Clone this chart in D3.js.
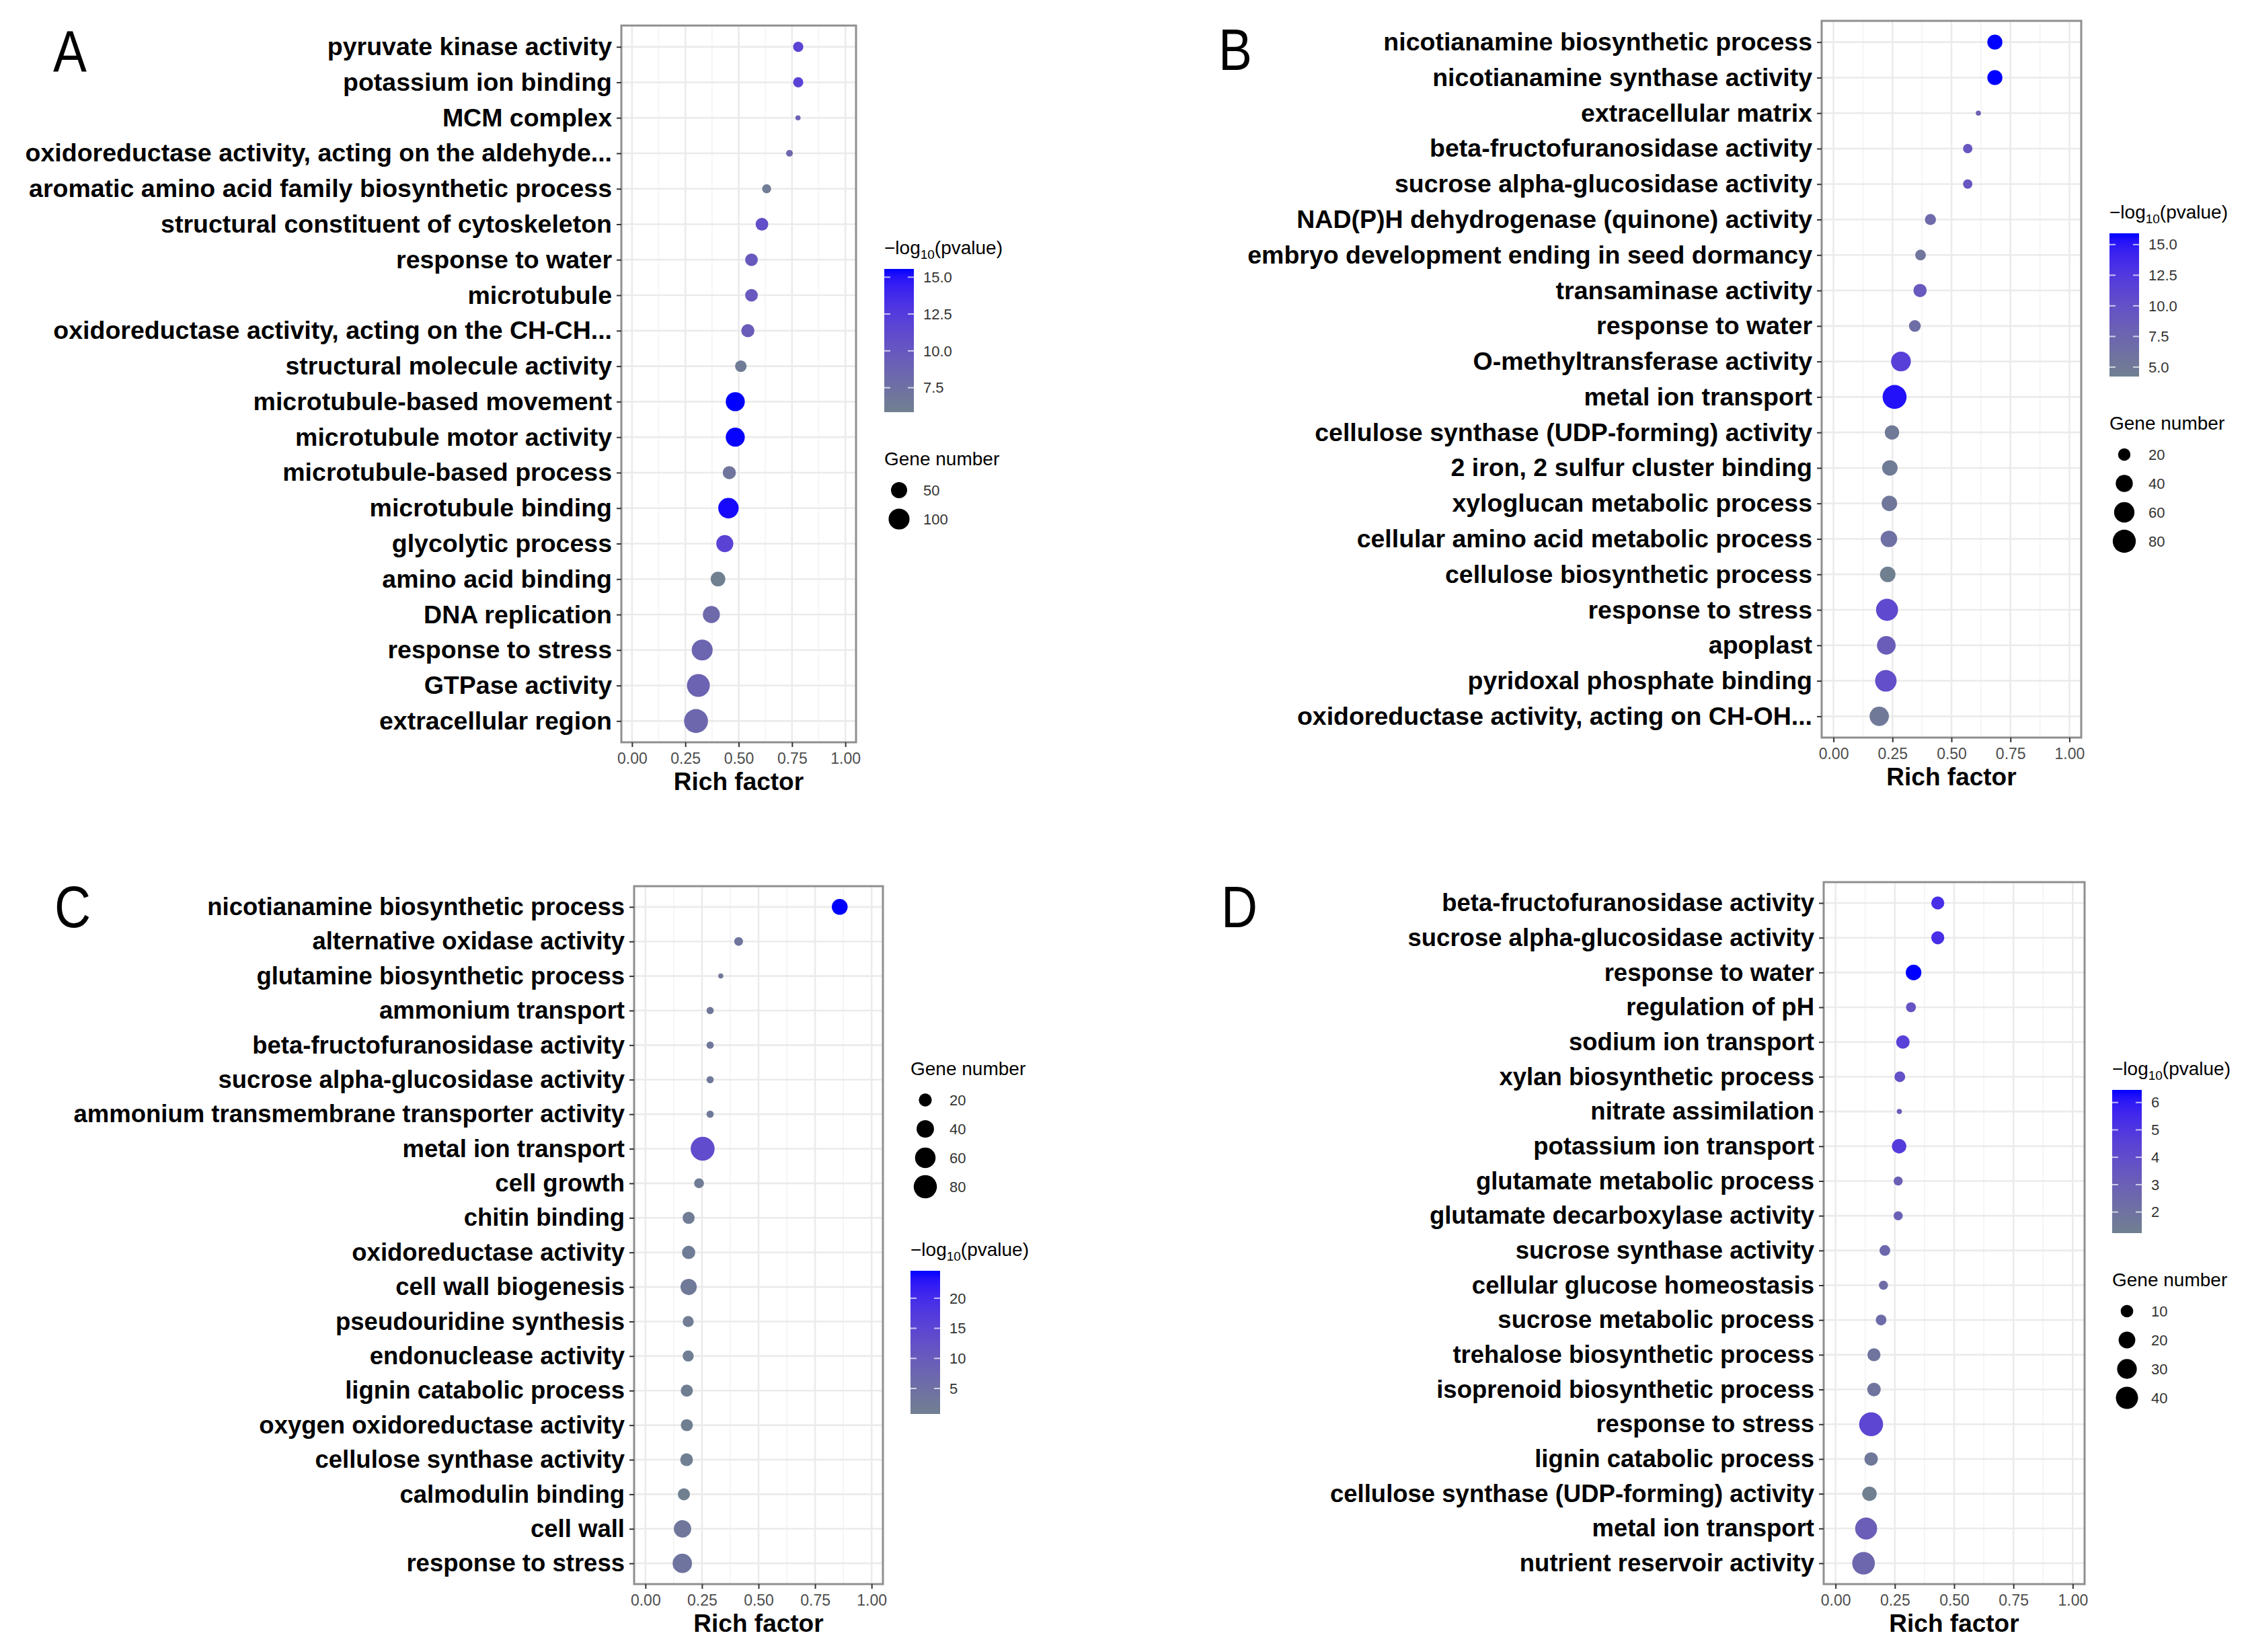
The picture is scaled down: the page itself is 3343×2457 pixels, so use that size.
<!DOCTYPE html>
<html>
<head>
<meta charset="utf-8">
<script src="https://cdn.jsdelivr.net/npm/d3@7"></script>
<style>
  body { margin: 0; background: #fff; }
  text { font-family: "Liberation Sans", Arial, sans-serif; }
</style>
</head>
<body>
<div id="chart"></div>
<script>
const W = 3343, H = 2457;

// ---- Panel A ----
const termsA = [
  "pyruvate kinase activity", "potassium ion binding", "MCM complex",
  "oxidoreductase activity, acting on the aldehyde...",
  "aromatic amino acid family biosynthetic process",
  "structural constituent of cytoskeleton", "response to water", "microtubule",
  "oxidoreductase activity, acting on the CH-CH...", "structural molecule activity",
  "microtubule-based movement", "microtubule motor activity", "microtubule-based process",
  "microtubule binding", "glycolytic process", "amino acid binding", "DNA replication",
  "response to stress", "GTPase activity", "extracellular region"
];
const richA = [0.779, 0.779, 0.778, 0.738, 0.631, 0.609, 0.560, 0.560, 0.543, 0.510,
               0.484, 0.484, 0.456, 0.452, 0.435, 0.403, 0.372, 0.329, 0.311, 0.300];
const genesA = [13, 13, 3, 4, 9, 25, 25, 25, 28, 19, 78, 78, 28, 94, 58, 38, 58, 100, 125, 140];
const pvalA = [11.8, 11.8, 9.0, 8.5, 6.2, 10.8, 9.8, 9.8, 9.4, 6.3,
               15.56, 15.5, 7.0, 15.3, 11.8, 5.84, 8.2, 8.6, 8.8, 8.3];
const colorBreaksA = [7.5, 10, 12.5, 15];
const sizeBreaksA = [50, 100];

// ---- Panel B ----
const termsB = [
  "nicotianamine biosynthetic process", "nicotianamine synthase activity",
  "extracellular matrix", "beta-fructofuranosidase activity",
  "sucrose alpha-glucosidase activity", "NAD(P)H dehydrogenase (quinone) activity",
  "embryo development ending in seed dormancy", "transaminase activity",
  "response to water", "O-methyltransferase activity", "metal ion transport",
  "cellulose synthase (UDP-forming) activity", "2 iron, 2 sulfur cluster binding",
  "xyloglucan metabolic process", "cellular amino acid metabolic process",
  "cellulose biosynthetic process", "response to stress", "apoplast",
  "pyridoxal phosphate binding", "oxidoreductase activity, acting on CH-OH..."
];
const richB = [0.684, 0.684, 0.614, 0.569, 0.569, 0.411, 0.369, 0.367, 0.345, 0.286,
               0.259, 0.248, 0.239, 0.237, 0.235, 0.230, 0.227, 0.224, 0.222, 0.194];
const genesB = [30, 30, 8, 12, 12, 16, 15, 23, 18, 56, 87, 27, 32, 32, 37, 32, 72, 49, 68, 53];
const pvalB = [15.92, 15.9, 8.0, 9.2, 9.2, 7.0, 5.5, 9.0, 6.5, 11.8,
               15.3, 5.0, 4.8, 5.4, 6.2, 4.23, 10.8, 8.5, 10.2, 5.0];
const colorBreaksB = [5, 7.5, 10, 12.5, 15];
const sizeBreaksB = [20, 40, 60, 80];

// ---- Panel C ----
const termsC = [
  "nicotianamine biosynthetic process", "alternative oxidase activity",
  "glutamine biosynthetic process", "ammonium transport",
  "beta-fructofuranosidase activity", "sucrose alpha-glucosidase activity",
  "ammonium transmembrane transporter activity", "metal ion transport", "cell growth",
  "chitin binding", "oxidoreductase activity", "cell wall biogenesis",
  "pseudouridine synthesis", "endonuclease activity", "lignin catabolic process",
  "oxygen oxidoreductase activity", "cellulose synthase activity", "calmodulin binding",
  "cell wall", "response to stress"
];
const richC = [0.859, 0.412, 0.333, 0.286, 0.286, 0.286, 0.286, 0.253, 0.237, 0.191,
               0.191, 0.191, 0.189, 0.189, 0.183, 0.183, 0.182, 0.170, 0.164, 0.163];
const genesC = [32, 9, 6, 7, 7, 7, 7, 86, 11, 17, 21, 34, 14, 14, 17, 17, 19, 17, 40, 52];
const pvalC = [24.56, 3.5, 3.0, 2.8, 2.8, 2.8, 2.8, 13.5, 2.0, 1.5,
               1.8, 2.5, 1.5, 1.3, 1.2, 1.2, 1.0, 0.76, 3.0, 3.8];
const colorBreaksC = [5, 10, 15, 20];
const sizeBreaksC = [20, 40, 60, 80];

// ---- Panel D ----
const termsD = [
  "beta-fructofuranosidase activity", "sucrose alpha-glucosidase activity",
  "response to water", "regulation of pH", "sodium ion transport",
  "xylan biosynthetic process", "nitrate assimilation", "potassium ion transport",
  "glutamate metabolic process", "glutamate decarboxylase activity",
  "sucrose synthase activity", "cellular glucose homeostasis", "sucrose metabolic process",
  "trehalose biosynthetic process", "isoprenoid biosynthetic process", "response to stress",
  "lignin catabolic process", "cellulose synthase (UDP-forming) activity",
  "metal ion transport", "nutrient reservoir activity"
];
const richD = [0.431, 0.431, 0.329, 0.318, 0.284, 0.271, 0.269, 0.268, 0.264, 0.264,
               0.208, 0.202, 0.192, 0.162, 0.162, 0.150, 0.150, 0.143, 0.129, 0.118];
const genesD = [11, 11, 17, 6, 12, 7, 3, 14, 5, 5, 7, 5, 7, 11, 12, 48, 12, 14, 39, 42];
const pvalD = [5.3, 5.3, 6.46, 3.6, 4.6, 3.8, 3.2, 4.8, 3.0, 3.0,
               2.6, 2.3, 2.4, 1.9, 1.9, 4.3, 1.7, 1.23, 3.1, 2.6];
const colorBreaksD = [2, 3, 4, 5, 6];
const sizeBreaksD = [10, 20, 30, 40];

const xTicks = [0, 0.25, 0.5, 0.75, 1];
const xMinor = [0.125, 0.375, 0.625, 0.875];

const lowColor = "#708090", highColor = "#0000ff";

const svg = d3.select("#chart").append("svg")
  .attr("width", W).attr("height", H)
  .style("background", "#fff");

svg.append("rect").attr("width", W).attr("height", H).attr("fill", "#fff");

// layout of each panel (box = plot area edges)
const panels = [
  {letter: "A", box: [924, 38, 1273, 1104], letterPos: [79, 107], labelSize: 37.5,
   legendX: 1315, legendTop: 378, order: ["color", "size"], fmt: ".1f",
   terms: termsA, rich: richA, genes: genesA, pval: pvalA, cb: colorBreaksA, sb: sizeBreaksA},
  {letter: "B", box: [2709, 31, 3095, 1097], letterPos: [1812, 104], labelSize: 37.5,
   legendX: 3137, legendTop: 325, order: ["color", "size"], fmt: ".1f",
   terms: termsB, rich: richB, genes: genesB, pval: pvalB, cb: colorBreaksB, sb: sizeBreaksB},
  {letter: "C", box: [943, 1318, 1313, 2356], letterPos: [81, 1379], labelSize: 36.5,
   legendX: 1354, legendTop: 1599, order: ["size", "color"], fmt: "d",
   terms: termsC, rich: richC, genes: genesC, pval: pvalC, cb: colorBreaksC, sb: sizeBreaksC},
  {letter: "D", box: [2712, 1312, 3100, 2356], letterPos: [1816, 1379], labelSize: 36.5,
   legendX: 3141, legendTop: 1599, order: ["color", "size"], fmt: "d",
   terms: termsD, rich: richD, genes: genesD, pval: pvalD, cb: colorBreaksD, sb: sizeBreaksD}
];

let gradId = 0;

function drawPanel(p) {
  const [x0, y0, x1, y1] = p.box;
  const g = svg.append("g");

  const x = d3.scaleLinear().domain([-0.05, 1.05]).range([x0, x1]);
  const y = d3.scalePoint().domain(p.terms).range([y0, y1]).padding(0.6);

  const pExt = d3.extent(p.pval);
  const gExt = d3.extent(p.genes);
  const color = d3.scaleLinear().domain(pExt).range([lowColor, highColor])
    .interpolate(d3.interpolateLab);
  const radius = d3.scaleSqrt().domain([0, gExt[1] - gExt[0]]).range([3.8, 17.8]);
  const r = v => radius(Math.max(0, v - gExt[0]));

  // panel background + grid
  g.append("rect").attr("x", x0).attr("y", y0)
    .attr("width", x1 - x0).attr("height", y1 - y0).attr("fill", "#fff");

  g.selectAll("line.minor").data(xMinor).enter().append("line")
    .attr("x1", d => x(d)).attr("x2", d => x(d))
    .attr("y1", y0).attr("y2", y1)
    .attr("stroke", "#f3f3f3").attr("stroke-width", 1.5);

  g.selectAll("line.vmajor").data(xTicks).enter().append("line")
    .attr("x1", d => x(d)).attr("x2", d => x(d))
    .attr("y1", y0).attr("y2", y1)
    .attr("stroke", "#ebebeb").attr("stroke-width", 2.6);

  g.selectAll("line.hmajor").data(p.terms).enter().append("line")
    .attr("x1", x0).attr("x2", x1)
    .attr("y1", d => y(d)).attr("y2", d => y(d))
    .attr("stroke", "#ebebeb").attr("stroke-width", 2.6);

  // points
  const rows = p.terms.map((t, i) => ({term: t, rich: p.rich[i], gene: p.genes[i], pv: p.pval[i]}));
  g.selectAll("circle.pt").data(rows).enter().append("circle")
    .attr("cx", d => x(d.rich))
    .attr("cy", d => y(d.term))
    .attr("r", d => r(d.gene))
    .attr("fill", d => color(d.pv));

  // border
  g.append("rect").attr("x", x0).attr("y", y0)
    .attr("width", x1 - x0).attr("height", y1 - y0)
    .attr("fill", "none").attr("stroke", "#8f8f8f").attr("stroke-width", 3);

  // axes
  const xAxis = g.append("g")
    .attr("transform", `translate(0,${y1})`)
    .call(d3.axisBottom(x).tickValues(xTicks).tickFormat(d3.format(".2f"))
      .tickSize(7).tickPadding(9));
  xAxis.select(".domain").remove();
  xAxis.selectAll("line").attr("stroke", "#333").attr("stroke-width", 2);
  xAxis.selectAll("text").attr("font-size", 23).attr("fill", "#4d4d4d")
    .attr("font-family", "Liberation Sans, Arial, sans-serif");

  const yAxis = g.append("g")
    .attr("transform", `translate(${x0},0)`)
    .call(d3.axisLeft(y).tickSize(7).tickPadding(7));
  yAxis.select(".domain").remove();
  yAxis.selectAll("line").attr("stroke", "#333").attr("stroke-width", 2);
  yAxis.selectAll("text").attr("font-size", p.labelSize).attr("font-weight", "bold")
    .attr("fill", "#000").attr("font-family", "Liberation Sans, Arial, sans-serif");

  g.append("text")
    .attr("x", (x0 + x1) / 2).attr("y", y1 + 71)
    .attr("text-anchor", "middle")
    .attr("font-size", 37).attr("font-weight", "bold")
    .text("Rich factor");

  // panel letter
  g.append("text")
    .attr("transform", `translate(${p.letterPos[0]},${p.letterPos[1]}) scale(0.85,1)`)
    .attr("font-size", 88)
    .text(p.letter);

  // legends
  const lx = p.legendX;
  let ty = p.legendTop;
  const barW = 44, barH = 213, keyStep = 43, labelX = lx + 58;

  p.order.forEach(kind => {
    if (kind === "color") {
      const title = g.append("text").attr("x", lx).attr("y", ty).attr("font-size", 28);
      title.append("tspan").text("\u2212log");
      title.append("tspan").attr("font-size", 19).attr("dy", 7).text("10");
      title.append("tspan").attr("dy", -7).text("(pvalue)");

      const top = ty + 22, bot = top + barH;
      const id = "grad" + (gradId++);
      const grad = svg.append("defs").append("linearGradient")
        .attr("id", id).attr("x1", 0).attr("y1", 1).attr("x2", 0).attr("y2", 0);
      d3.range(0, 21).forEach(k => {
        const t = k / 20;
        grad.append("stop").attr("offset", t)
          .attr("stop-color", color(pExt[0] + t * (pExt[1] - pExt[0])));
      });
      g.append("rect").attr("x", lx).attr("y", top)
        .attr("width", barW).attr("height", barH).attr("fill", `url(#${id})`);

      const cy = d3.scaleLinear().domain(pExt).range([bot, top]);
      p.cb.forEach(b => {
        [[lx, lx + 9], [lx + barW - 9, lx + barW]].forEach(([a, c]) => {
          g.append("line").attr("x1", a).attr("x2", c)
            .attr("y1", cy(b)).attr("y2", cy(b))
            .attr("stroke", "#fff").attr("stroke-opacity", 0.7).attr("stroke-width", 2);
        });
        g.append("text").attr("x", labelX).attr("y", cy(b)).attr("dy", "0.35em")
          .attr("font-size", 22).attr("fill", "#333")
          .text(d3.format(p.fmt)(b));
      });
      ty = bot + 79;
    } else {
      g.append("text").attr("x", lx).attr("y", ty).attr("font-size", 28).text("Gene number");
      let cyy = ty + 37;
      p.sb.forEach((b, i) => {
        const c = cyy + i * keyStep;
        g.append("circle").attr("cx", lx + barW / 2).attr("cy", c).attr("r", r(b)).attr("fill", "#000");
        g.append("text").attr("x", labelX).attr("y", c).attr("dy", "0.35em")
          .attr("font-size", 22).attr("fill", "#333").text(b);
      });
      ty = cyy + (p.sb.length - 1) * keyStep + 103;
    }
  });
}

panels.forEach(drawPanel);
</script>
</body>
</html>
